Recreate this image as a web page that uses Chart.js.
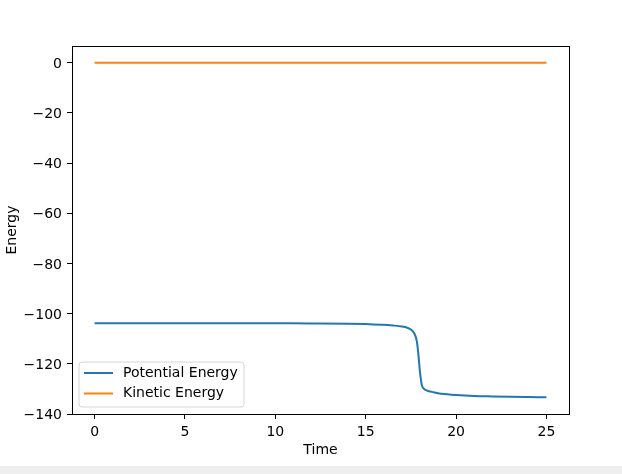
<!DOCTYPE html>
<html>
<head>
<meta charset="utf-8">
<script src="https://cdn.jsdelivr.net/npm/chart.js@4"></script>
<style>
  html, body { margin: 0; padding: 0; background: #ffffff; }
  #wrap { width: 622px; height: 466px; background: #ffffff; }
  #bar { width: 622px; height: 8px; background: #efefef; }
  canvas { display: block; }
</style>
</head>
<body>
<div id="wrap"><canvas id="c" width="622" height="466"></canvas></div>
<div id="bar"></div>
<script>
const times = [0, 2, 4, 6, 8, 10, 12, 14, 15, 16, 16.5, 17, 17.3, 17.5, 17.6, 17.7, 17.8, 17.85, 17.9, 17.95, 18.0, 18.05, 18.1, 18.15, 18.2, 18.3, 18.5, 18.75, 19, 19.5, 20, 21, 22, 23, 24, 25];
const potentialEnergy = [-103.8, -103.8, -103.8, -103.8, -103.8, -103.85, -103.9, -104.0, -104.15, -104.4, -104.7, -105.1, -105.6, -106.3, -107.0, -108.0, -110.0, -112.0, -115.0, -119.0, -123.0, -126.0, -128.3, -129.3, -129.8, -130.4, -130.9, -131.3, -131.7, -132.1, -132.4, -132.8, -133.0, -133.15, -133.25, -133.33];
const kineticEnergy = [0, 0, 0, 0, 0, 0, 0, 0, 0, 0, 0, 0, 0, 0, 0, 0, 0, 0, 0, 0, 0, 0, 0, 0, 0, 0, 0, 0, 0, 0, 0, 0, 0, 0, 0, 0];
const xTicks = [0, 5, 10, 15, 20, 25];
const yTicks = [-140, -120, -100, -80, -60, -40, -20, 0];
const seriesLabels = ['Potential Energy', 'Kinetic Energy'];
const seriesColors = ['#1f77b4', '#ff7f0e'];

const FONT = 'DejaVu Sans';

const frame = {
  id: 'frame',
  afterDatasetsDraw(chart) {
    const {ctx, chartArea: a} = chart;
    ctx.save();
    ctx.strokeStyle = '#000';
    ctx.lineWidth = 1;
    ctx.strokeRect(Math.round(a.left) + 0.5, Math.round(a.top) + 0.5, Math.round(a.right - a.left), Math.round(a.bottom - a.top));
    ctx.restore();
  }
};

const legendBox = {
  id: 'legendBox',
  afterDraw(chart) {
    const {ctx, chartArea: a} = chart;
    const x = a.left + 7, y = a.bottom - 52, w = 165, h = 45;
    ctx.save();
    ctx.beginPath();
    const r = 3;
    ctx.moveTo(x + r, y);
    ctx.arcTo(x + w, y, x + w, y + h, r);
    ctx.arcTo(x + w, y + h, x, y + h, r);
    ctx.arcTo(x, y + h, x, y, r);
    ctx.arcTo(x, y, x + w, y, r);
    ctx.closePath();
    ctx.fillStyle = 'rgba(255,255,255,0.8)';
    ctx.fill();
    ctx.strokeStyle = '#d6d6d6';
    ctx.lineWidth = 1;
    ctx.stroke();
    chart.data.datasets.forEach((ds, i) => {
      const ly = y + 11 + i * 20.5;
      ctx.beginPath();
      ctx.moveTo(x + 5, ly);
      ctx.lineTo(x + 34, ly);
      ctx.strokeStyle = ds.borderColor;
      ctx.lineWidth = 2;
      ctx.stroke();
      ctx.fillStyle = '#000';
      ctx.font = '14px "' + FONT + '"';
      ctx.textBaseline = 'middle';
      ctx.fillText(ds.label, x + 44, ly);
    });
    ctx.restore();
  }
};

new Chart(document.getElementById('c'), {
  type: 'line',
  data: {
    datasets: [
      {
        label: seriesLabels[0],
        data: times.map((t, i) => ({x: t, y: potentialEnergy[i]})),
        borderColor: seriesColors[0],
        backgroundColor: seriesColors[0],
        borderWidth: 2,
        pointRadius: 0,
        cubicInterpolationMode: 'monotone',
        fill: false
      },
      {
        label: seriesLabels[1],
        data: times.map((t, i) => ({x: t, y: kineticEnergy[i]})),
        borderColor: seriesColors[1],
        backgroundColor: seriesColors[1],
        borderWidth: 2,
        pointRadius: 0,
        fill: false
      }
    ]
  },
  options: {
    responsive: false,
    animation: false,
    devicePixelRatio: 1,
    layout: { padding: { left: 0, right: 53, top: 46, bottom: 0 } },
    plugins: { legend: { display: false }, tooltip: { enabled: false } },
    scales: {
      x: {
        type: 'linear',
        min: -1.25,
        max: 26.25,
        afterBuildTicks: s => { s.ticks = xTicks.map(v => ({value: v})); },
        afterFit: s => { s.height = 52; },
        grid: { drawOnChartArea: false, drawTicks: true, tickLength: 5, color: '#000' },
        border: { display: true, color: '#000' },
        ticks: { color: '#000', padding: 5, maxRotation: 0, font: { family: FONT, size: 14 } },
        title: { display: true, text: 'Time', color: '#000', font: { family: FONT, size: 14 }, padding: { top: 0, bottom: 7 } }
      },
      y: {
        type: 'linear',
        min: -140,
        max: 6.67,
        afterBuildTicks: s => { s.ticks = yTicks.map(v => ({value: v})); },
        afterFit: s => { s.width = 72; },
        grid: { drawOnChartArea: false, drawTicks: true, tickLength: 5, color: '#000' },
        border: { display: true, color: '#000' },
        ticks: { color: '#000', padding: 5, labelOffset: 1.5, font: { family: FONT, size: 14 }, callback: v => String(v).replace('-', '\u2212') },
        title: { display: true, text: 'Energy', color: '#000', font: { family: FONT, size: 14 }, padding: { top: 4, bottom: 0 } }
      }
    }
  },
  plugins: [frame, legendBox]
});
</script>
</body>
</html>
